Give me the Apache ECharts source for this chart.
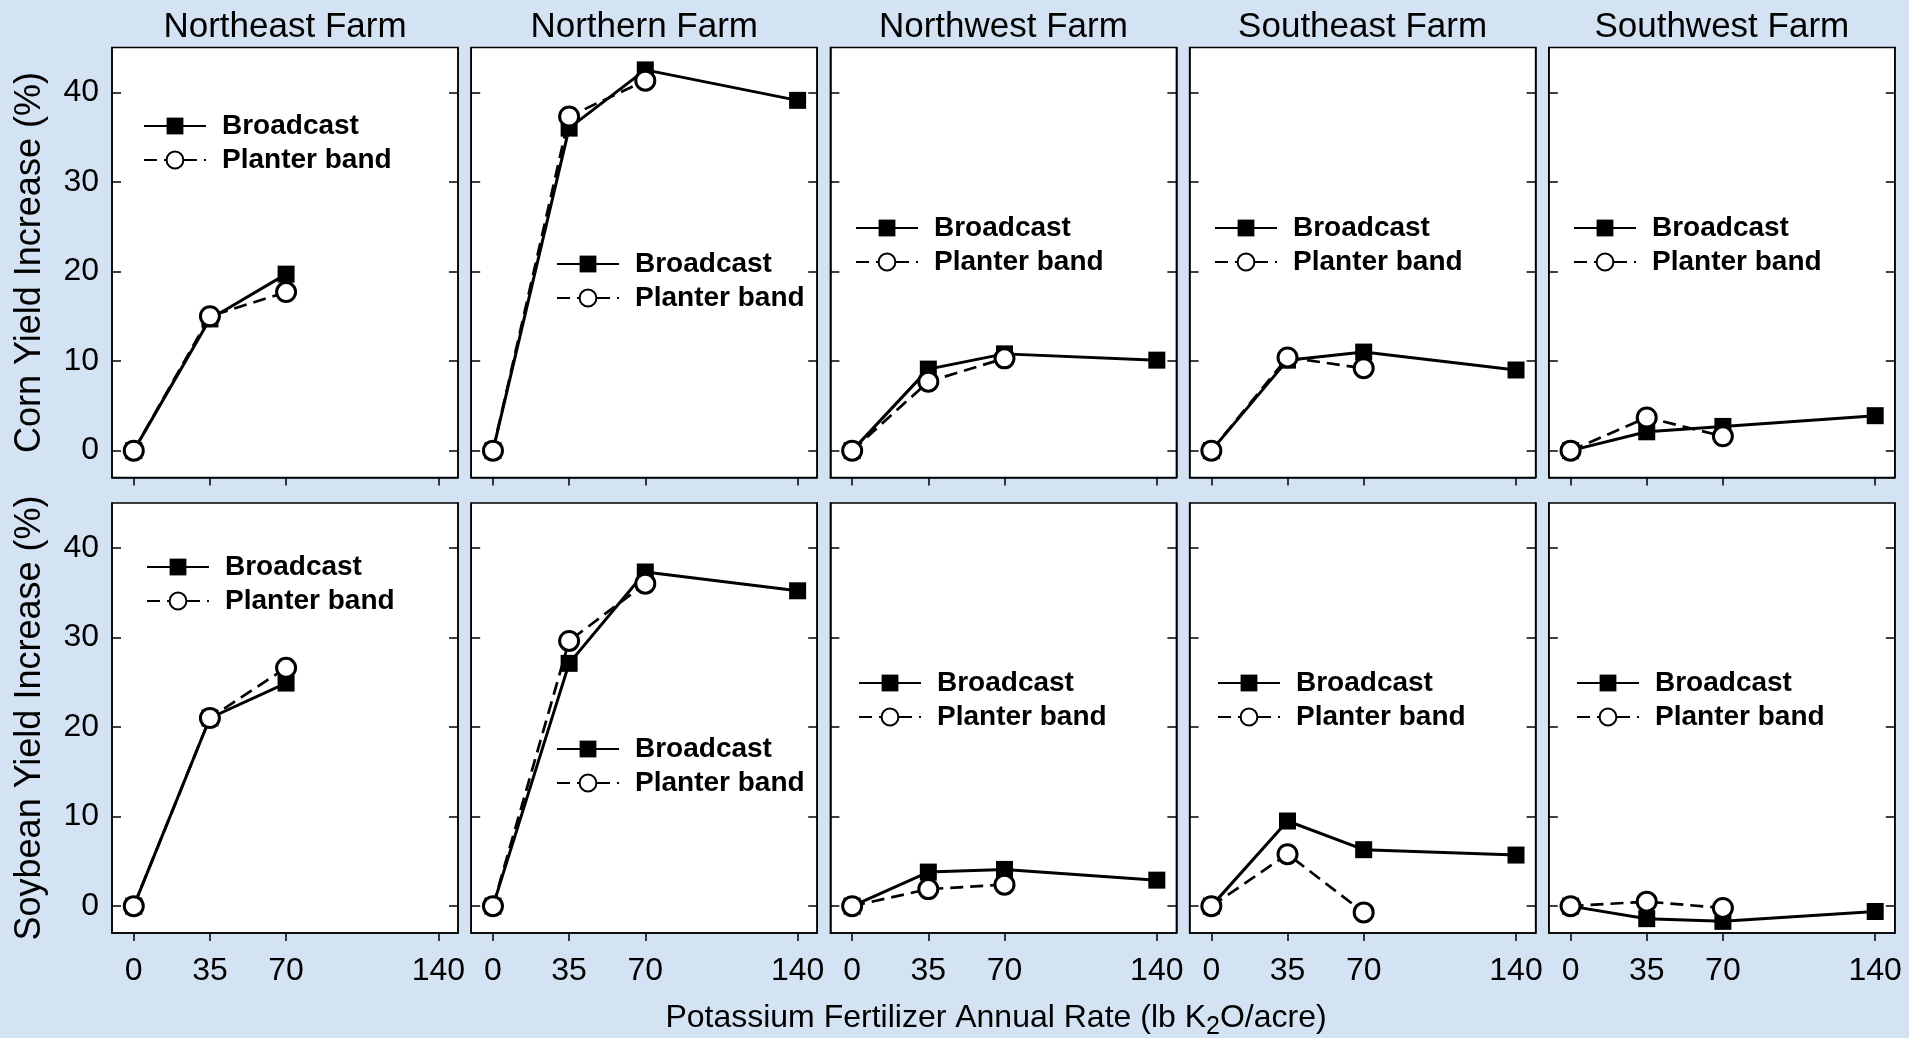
<!DOCTYPE html>
<html>
<head>
<meta charset="utf-8">
<script src="https://cdn.jsdelivr.net/npm/echarts@6/dist/echarts.min.js"></script>
<style>
html,body{margin:0;padding:0;background:#d3e3f3;}
#chart{width:1909px;height:1038px;}
</style>
</head>
<body>
<div id="chart"></div>
<script>
// ---- data ----
const farms = ['Northeast Farm', 'Northern Farm', 'Northwest Farm', 'Southeast Farm', 'Southwest Farm'];
const rates = [0, 35, 70, 140];
const xTickLabels = [0, 35, 70, 140];
const yTickLabels = [0, 10, 20, 30, 40];
const rowNames = ['Corn Yield Increase (%)', 'Soybean Yield Increase (%)'];
const seriesNames = ['Broadcast', 'Planter band'];

// Corn yield increase (%)
const cornBroadcastNE = [0, 14.7, 19.7];
const cornBroadcastN  = [0, 36.0, 42.5, 39.1];
const cornBroadcastNW = [0, 9.1, 10.8, 10.1];
const cornBroadcastSE = [0, 10.1, 11.0, 9.0];
const cornBroadcastSW = [0, 2.1, 2.7, 3.9];
const cornPlanterNE = [0, 15.0, 17.7];
const cornPlanterN  = [0, 37.3, 41.3];
const cornPlanterNW = [0, 7.7, 10.3];
const cornPlanterSE = [0, 10.4, 9.2];
const cornPlanterSW = [0, 3.7, 1.6];

// Soybean yield increase (%)
const soyBroadcastNE = [0, 21.0, 24.9];
const soyBroadcastN  = [0, 27.1, 37.3, 35.2];
const soyBroadcastNW = [0, 3.8, 4.1, 2.9];
const soyBroadcastSE = [0, 9.5, 6.3, 5.7];
const soyBroadcastSW = [0, -1.4, -1.7, -0.6];
const soyPlanterNE = [0, 21.0, 26.6];
const soyPlanterN  = [0, 29.6, 36.0];
const soyPlanterNW = [0, 1.9, 2.4];
const soyPlanterSE = [0, 5.8, -0.7];
const soyPlanterSW = [0, 0.5, -0.2];

const broadcastRows = [
  [cornBroadcastNE, cornBroadcastN, cornBroadcastNW, cornBroadcastSE, cornBroadcastSW],
  [soyBroadcastNE, soyBroadcastN, soyBroadcastNW, soyBroadcastSE, soyBroadcastSW]
];
const planterRows = [
  [cornPlanterNE, cornPlanterN, cornPlanterNW, cornPlanterSE, cornPlanterSW],
  [soyPlanterNE, soyPlanterN, soyPlanterNW, soyPlanterSE, soyPlanterSW]
];

// ---- layout (positions/styles) ----
const FONT = 'Liberation Sans, Arial, Helvetica, sans-serif';
const panelLeft0 = 112, panelStep = 359.2, panelW = 346;
const rowTop = [47.5, 503], panelH = 430;
// legend anchors: [lineLeftX, firstRowCenterY]
const legendPos = [
  [[143, 125], [556, 263], [855, 227], [1214, 227], [1573, 227]],
  [[146, 566], [556, 748], [858, 682], [1217, 682], [1576, 682]]
];

const grids = [], xAxes = [], yAxes = [], series = [], legends = [], titles = [];
let gi = 0;
for (let r = 0; r < 2; r++) {
  for (let c = 0; c < 5; c++) {
    const left = panelLeft0 + c * panelStep;
    grids.push({
      left: left, top: rowTop[r], width: panelW, height: panelH,
      show: true, backgroundColor: '#fff', borderColor: '#000', borderWidth: 1.5
    });
    xAxes.push({
      type: 'value', gridIndex: gi, min: -10, max: 149,
      axisLine: {show: true, onZero: false, lineStyle: {color: '#000', width: 1.5}},
      axisTick: {show: true, inside: false, length: 8, customValues: rates, lineStyle: {color: '#000', width: 1.5}},
      axisLabel: {show: r === 1, customValues: xTickLabels, fontSize: 32, color: '#000', fontFamily: FONT, margin: 22},
      splitLine: {show: false}
    });
    yAxes.push({
      type: 'value', gridIndex: gi, min: -3, max: 45, position: 'left',
      axisLine: {show: true, onZero: false, lineStyle: {color: '#000', width: 1.5}},
      axisTick: {show: true, inside: true, length: 9, customValues: yTickLabels, lineStyle: {color: '#000', width: 1.5}},
      axisLabel: {show: c === 0, customValues: yTickLabels, fontSize: 32, color: '#000', fontFamily: FONT, margin: 13},
      splitLine: {show: false},
      name: c === 0 ? rowNames[r] : '',
      nameLocation: 'middle', nameRotate: 90, nameGap: 64,
      nameTextStyle: {fontSize: 36, color: '#000', fontFamily: FONT}
    });
    yAxes.push({
      type: 'value', gridIndex: gi, min: -3, max: 45, position: 'right',
      axisLine: {show: true, onZero: false, lineStyle: {color: '#000', width: 1.5}},
      axisTick: {show: true, inside: true, length: 9, customValues: yTickLabels, lineStyle: {color: '#000', width: 1.5}},
      axisLabel: {show: false}, splitLine: {show: false}
    });
    const bData = broadcastRows[r][c].map((v, i) => [rates[i], v]);
    const pData = planterRows[r][c].map((v, i) => [rates[i], v]);
    series.push({
      name: seriesNames[0], type: 'line', xAxisIndex: gi, yAxisIndex: gi * 2,
      data: bData, symbol: 'rect', symbolSize: 17, showAllSymbol: true,
      lineStyle: {color: '#000', width: 3},
      itemStyle: {color: '#000', borderColor: '#000', borderWidth: 0},
      emphasis: {disabled: true}, z: 3, clip: false
    });
    series.push({
      name: seriesNames[1], type: 'line', xAxisIndex: gi, yAxisIndex: gi * 2,
      data: pData, symbol: 'circle', symbolSize: 19, showAllSymbol: true,
      lineStyle: {color: '#000', width: 2.7, type: [13, 7]},
      itemStyle: {color: '#fff', borderColor: '#000', borderWidth: 3},
      emphasis: {disabled: true}, z: 4, clip: false
    });
    const lp = legendPos[r][c];
    legends.push({
      data: seriesNames, orient: 'vertical', left: lp[0], top: lp[1] - 13,
      padding: 0, itemWidth: 62, itemHeight: 21, itemGap: 6, selectedMode: false,
      textStyle: {fontSize: 28, fontWeight: 'bold', color: '#000', fontFamily: FONT, lineHeight: 26, padding: [0, 0, 0, 11]}
    });
    if (r === 0) {
      titles.push({
        text: farms[c], left: left + panelW / 2, top: 8, textAlign: 'center', padding: 0,
        textStyle: {fontSize: 35, fontWeight: 'normal', color: '#000', fontFamily: FONT, lineHeight: 38}
      });
    }
    gi++;
  }
}
titles.push({
  text: '{a|Potassium Fertilizer Annual Rate (lb K}{s|2}{a|O/acre)}',
  left: 996, top: 996, textAlign: 'center', padding: 0,
  textStyle: {
    fontWeight: 'normal',
    rich: {
      a: {fontSize: 32, fontWeight: 'normal', color: '#000', fontFamily: FONT, lineHeight: 44},
      s: {fontSize: 25, fontWeight: 'normal', color: '#000', fontFamily: FONT, lineHeight: 24, verticalAlign: 'bottom'}
    }
  }
});

const chart = echarts.init(document.getElementById('chart'), null, {renderer: 'canvas'});
chart.setOption({
  backgroundColor: '#d3e3f3',
  animation: false,
  title: titles,
  legend: legends,
  grid: grids,
  xAxis: xAxes,
  yAxis: yAxes,
  series: series
});
</script>
</body>
</html>
